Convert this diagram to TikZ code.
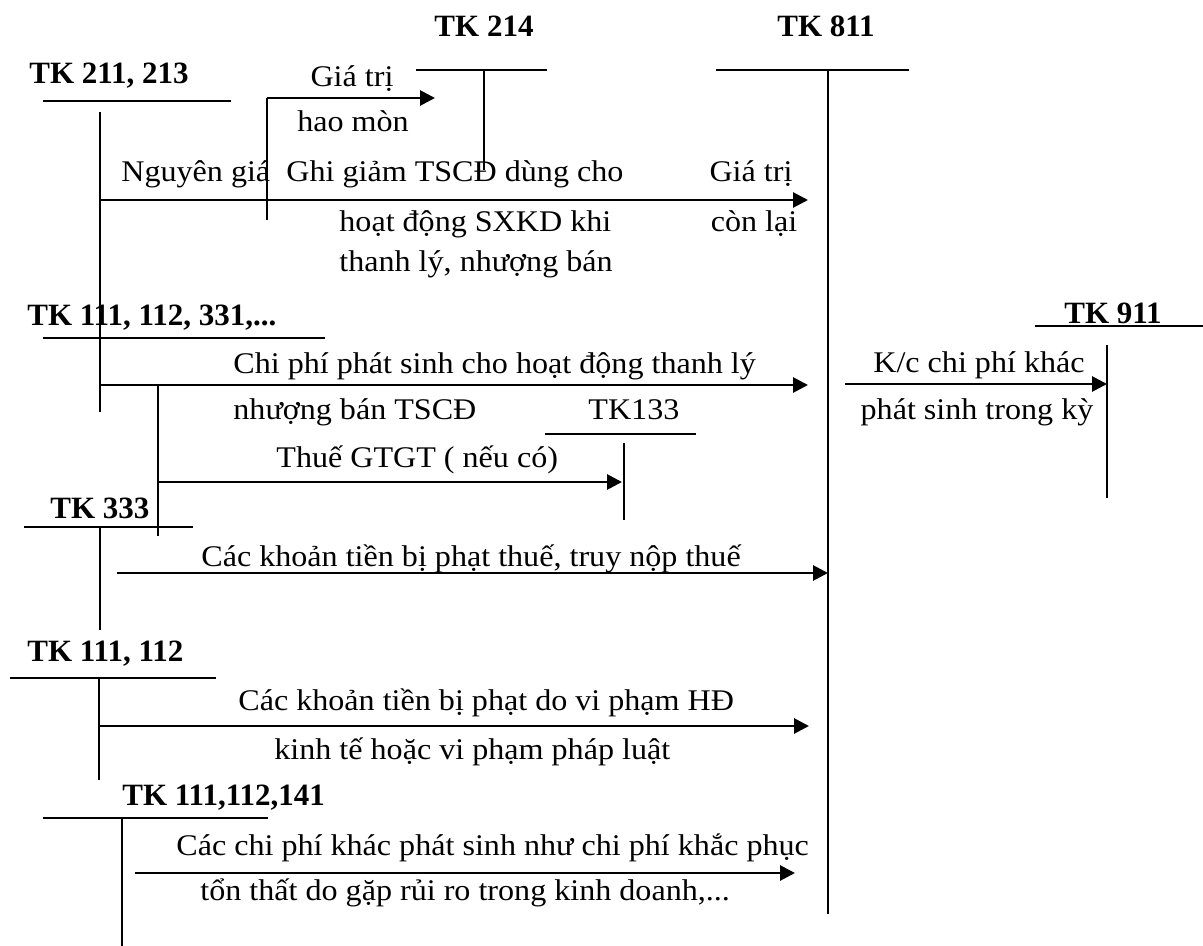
\documentclass[tikz,border=0pt]{standalone}
\usepackage{fontspec}
\setmainfont{Liberation Serif}
\newfontfamily\txtfont[FakeStretch=1.07]{Liberation Serif}
\usetikzlibrary{arrows.meta}
\tikzset{
  tk/.style={font=\fontsize{15.5}{18}\selectfont\bfseries, inner sep=0pt},
  txt/.style={font=\fontsize{15}{18}\selectfont\txtfont, inner sep=0pt},
  tline/.style={line width=1pt},
  flow/.style={line width=1.4pt, -{Triangle[length=7.5pt,width=7.5pt]}}
}
\begin{document}
\begin{tikzpicture}[x=0.5pt,y=-0.5pt]
  \useasboundingbox (0,0) rectangle (1203,946);

  % TK 214 and TK 811
  \node[tk, anchor=base] (t214) at (484,37) {TK 214};
  \coordinate (t214l) at (416,70); \coordinate (t214r) at (547,70);
  \coordinate (t214b) at (484,170);
  \draw[tline] (t214l)--(t214r) (t214l -| t214b)--(t214b);
  \node[tk, anchor=base] (t811) at (826,37) {TK 811};
  \coordinate (t811l) at (716,70); \coordinate (t811r) at (909,70);
  \coordinate (t811b) at (828,914);
  \draw[tline] (t811l)--(t811r) (t811l -| t811b)--(t811b);

  % TK 211, 213
  \node[tk, anchor=base west] (t211) at (29,84) {TK 211, 213};
  \coordinate (t211l) at (43,101); \coordinate (t211r) at (231,101);
  \coordinate (t211t) at (100,112); \coordinate (t211b) at (100,412);
  \draw[tline] (t211l)--(t211r) (t211t)--(t211b);
  \coordinate (hm0) at (267,220); \coordinate (hm1) at (267,98);
  \coordinate (hm2) at (435,98);
  \draw[tline] (hm0)--(hm1);
  \draw[flow] (hm1)--(hm2);
  \node[txt, anchor=base] (gt1) at (352,87) {Giá trị};
  \node[txt, anchor=base] (hm) at (353,132) {hao mòn};
  \coordinate (ng0) at (100,200); \coordinate (ng1) at (808,200);
  \draw[flow] (ng0)--(ng1);
  \node[txt, anchor=base west] (ng) at (121,182) {Nguyên giá};
  \node[txt, anchor=base west] (gg1) at (286,182) {Ghi giảm TSCĐ dùng cho};
  \node[txt, anchor=base west] (gg2) at (339,232) {hoạt động SXKD khi};
  \node[txt, anchor=base west] (gg3) at (339,272) {thanh lý, nhượng bán};
  \node[txt, anchor=base] (gt2) at (751,182) {Giá trị};
  \node[txt, anchor=base] (cl) at (754,232) {còn lại};

  % TK 111, 112, 331,...
  \node[tk, anchor=base west] (t111a) at (27,326) {TK 111, 112, 331,...};
  \coordinate (t111l) at (43,338); \coordinate (t111r) at (325,338);
  \draw[tline] (t111l)--(t111r);
  \coordinate (cp0) at (100,385); \coordinate (cp1) at (808,385);
  \draw[flow] (cp0)--(cp1);
  \node[txt, anchor=base west] (cp1t) at (233,373) {Chi phí phát sinh cho hoạt động thanh lý};
  \node[txt, anchor=base west] (cp2t) at (233,419) {nhượng bán TSCĐ};
  \coordinate (br0) at (158,385); \coordinate (br1) at (158,536);
  \draw[tline] (br0)--(br1);
  \coordinate (vat0) at (158,482); \coordinate (vat1) at (622,482);
  \draw[flow] (vat0)--(vat1);
  \node[txt, anchor=base west] (vat) at (276,467) {Thuế GTGT ( nếu có)};

  % TK133
  \node[txt, anchor=base west] (t133) at (588,419) {TK133};
  \coordinate (t133l) at (545,434); \coordinate (t133r) at (696,434);
  \coordinate (t133t) at (624,443); \coordinate (t133b) at (624,520);
  \draw[tline] (t133l)--(t133r) (t133t)--(t133b);

  % TK 911
  \node[tk, anchor=base] (t911) at (1113,323) {TK 911};
  \coordinate (t911l) at (1035,326); \coordinate (t911r) at (1203,326);
  \coordinate (t911t) at (1107,345); \coordinate (t911b) at (1107,498);
  \draw[tline] (t911l)--(t911r) (t911t)--(t911b);
  \coordinate (kc0) at (845,384);
  \draw[flow] (kc0)--(kc0 -| t911t);
  \node[txt, anchor=base] (kc1) at (979,372) {K/c chi phí khác};
  \node[txt, anchor=base] (kc2) at (977,419) {phát sinh trong kỳ};

  % TK 333
  \node[tk, anchor=base west] (t333) at (50,518) {TK 333};
  \coordinate (t333l) at (24,527); \coordinate (t333r) at (193,527);
  \coordinate (t333b) at (100,630);
  \draw[tline] (t333l)--(t333r) (t333l -| t333b)--(t333b);
  \coordinate (ph0) at (117,573);
  \draw[flow] (ph0)--(ph0 -| t811b);
  \node[txt, anchor=base west] (ph) at (201,566) {Các khoản tiền bị phạt thuế, truy nộp thuế};

  % TK 111, 112
  \node[tk, anchor=base west] (t111b) at (27,661) {TK 111, 112};
  \coordinate (t112l) at (10,678); \coordinate (t112r) at (216,678);
  \coordinate (t112b) at (99,780);
  \draw[tline] (t112l)--(t112r) (t112l -| t112b)--(t112b);
  \coordinate (hd0) at (99,726); \coordinate (hd1) at (809,726);
  \draw[flow] (hd0)--(hd1);
  \node[txt, anchor=base west] (hd1t) at (238,710) {Các khoản tiền bị phạt do vi phạm HĐ};
  \node[txt, anchor=base west] (hd2t) at (274,759) {kinh tế hoặc vi phạm pháp luật};

  % TK 111,112,141
  \node[tk, anchor=base west] (t141) at (122,805) {TK 111,112,141};
  \coordinate (t141l) at (43,818); \coordinate (t141r) at (268,818);
  \coordinate (t141b) at (122,946);
  \draw[tline] (t141l)--(t141r) (t141l -| t141b)--(t141b);
  \coordinate (kp0) at (135,873); \coordinate (kp1) at (795,873);
  \draw[flow] (kp0)--(kp1);
  \node[txt, anchor=base west] (kp1t) at (176,855) {Các chi phí khác phát sinh như chi phí khắc phục};
  \node[txt, anchor=base west] (kp2t) at (200,900) {tổn thất do gặp rủi ro trong kinh doanh,...};
\end{tikzpicture}
\end{document}
